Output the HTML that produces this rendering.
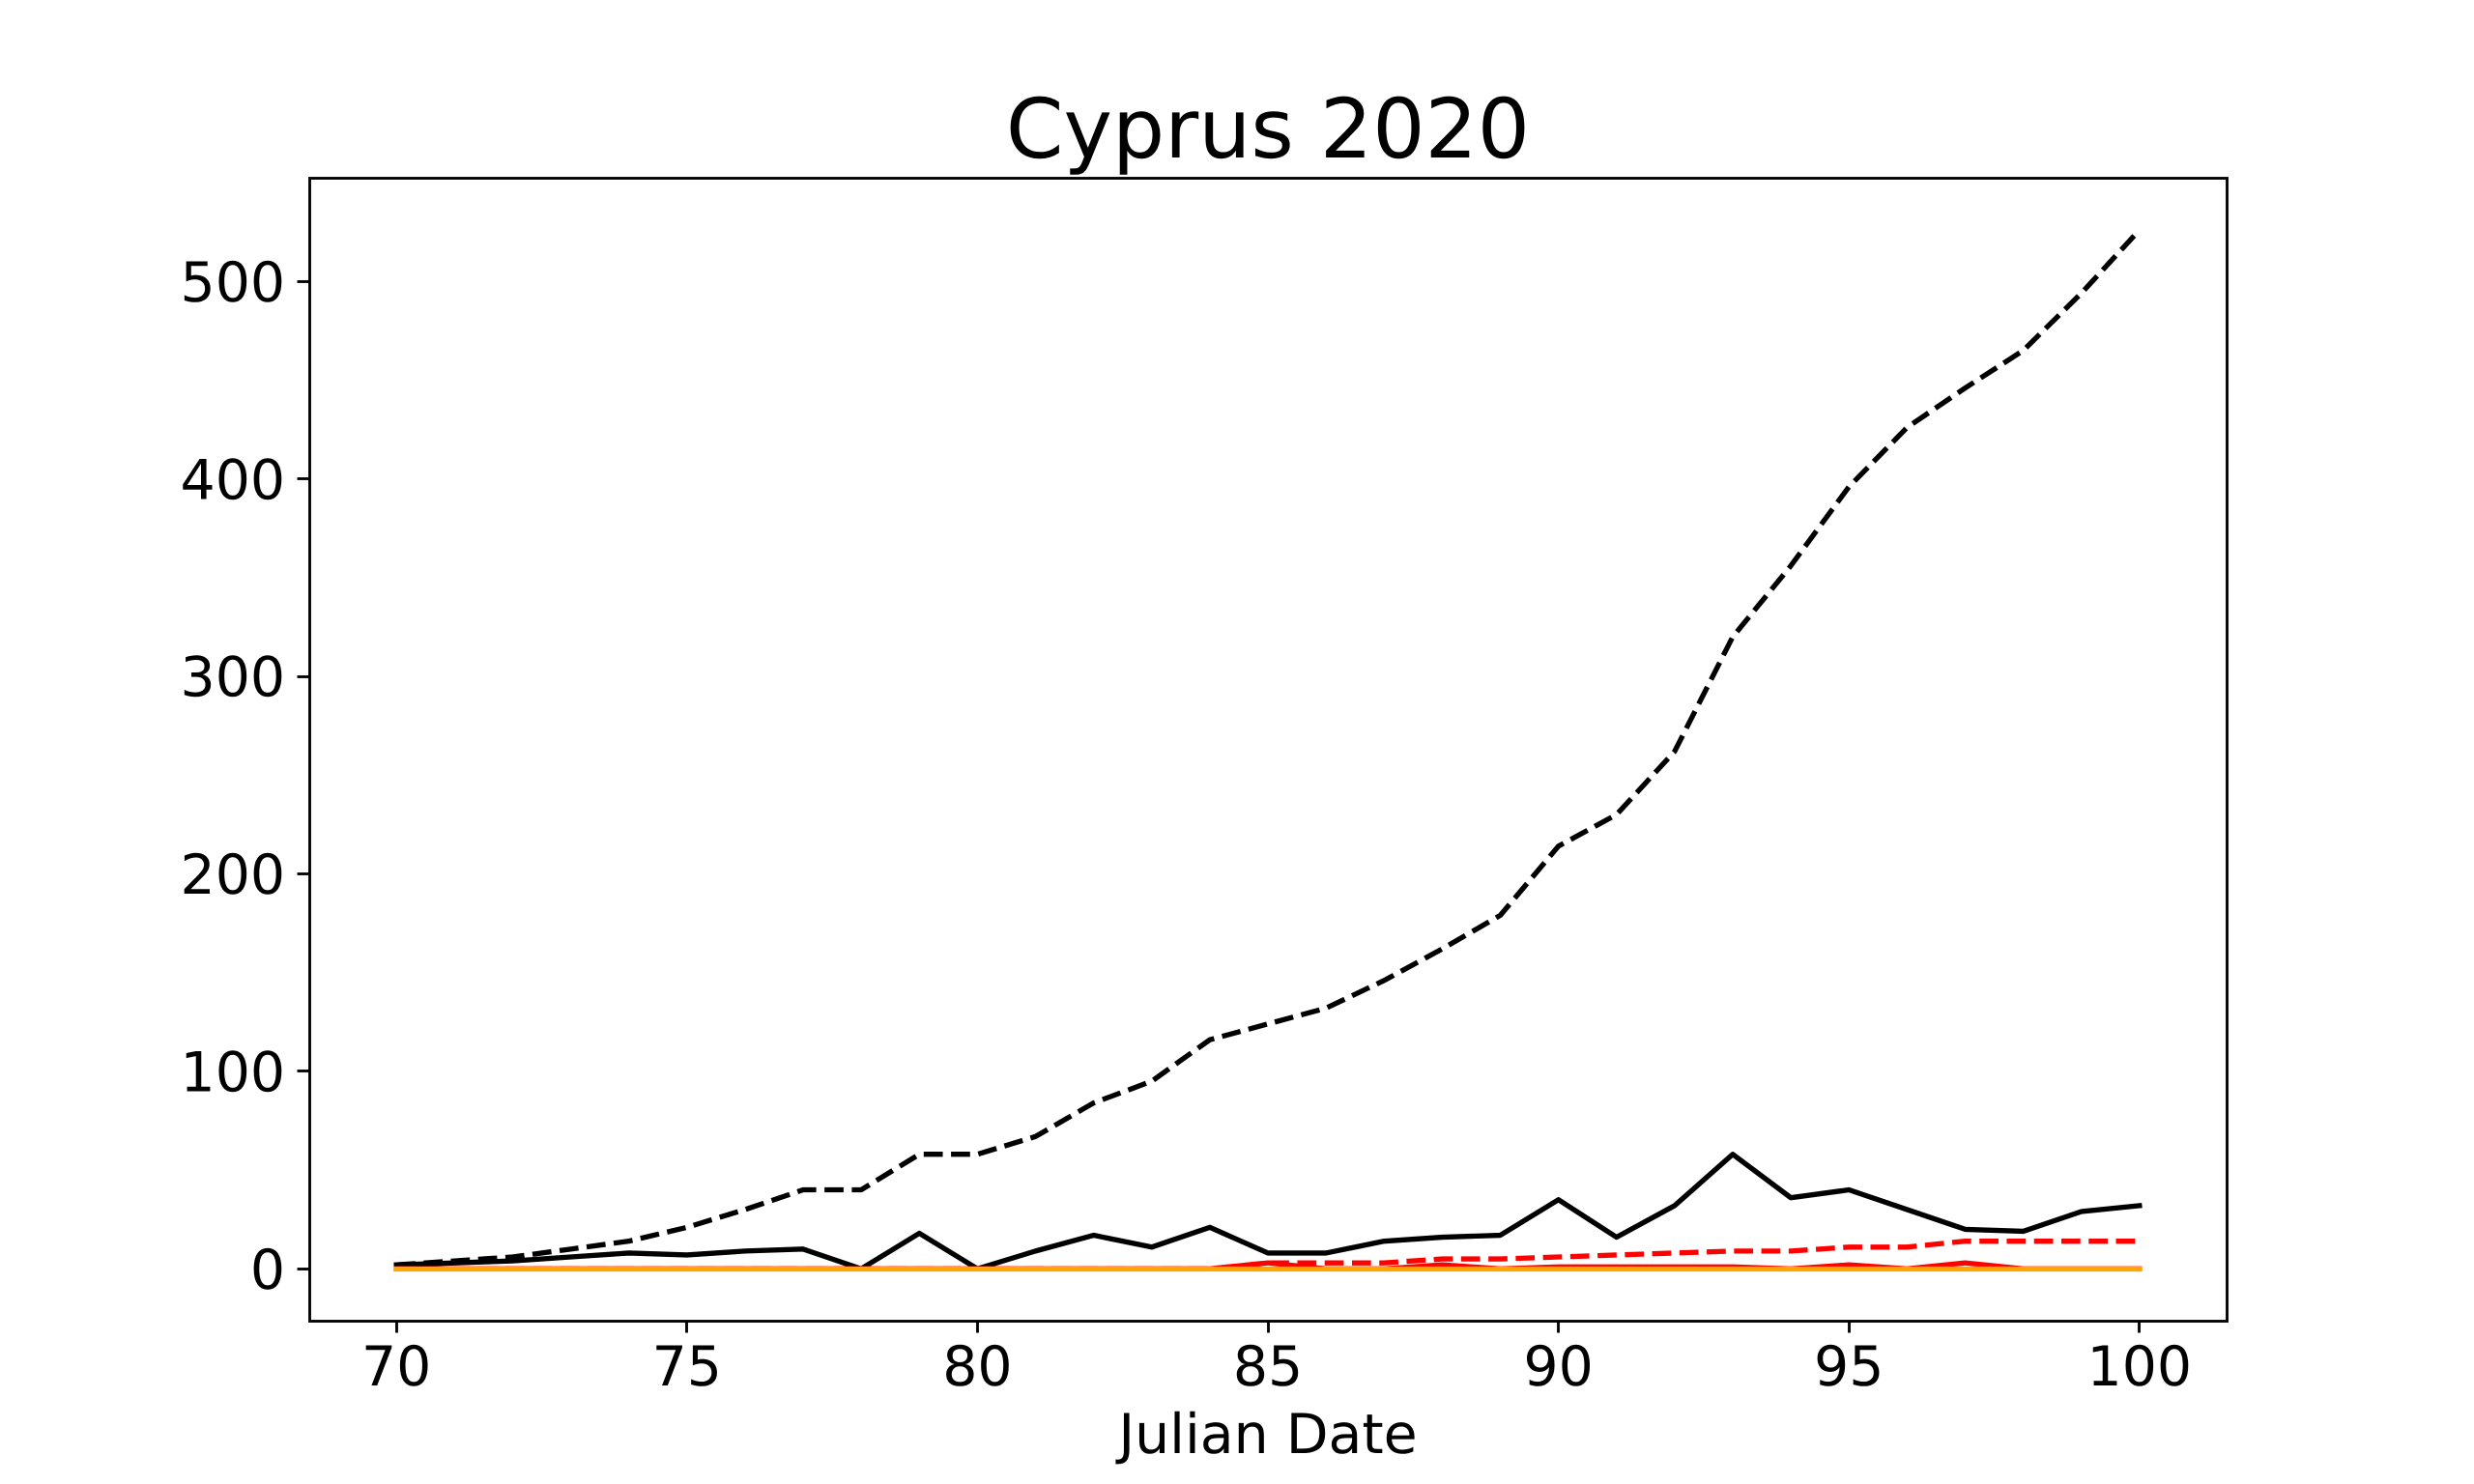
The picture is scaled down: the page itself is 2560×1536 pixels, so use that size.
<!DOCTYPE html>
<html lang="en">
<head>
<meta charset="utf-8">
<title>Cyprus 2020</title>
<style>
  html, body { margin: 0; padding: 0; background: #fff; }
  body { width: 2560px; height: 1536px; overflow: hidden; }
  svg { display: block; }
  text { font-family: "DejaVu Sans", "Liberation Sans", sans-serif; fill: #000; text-rendering: geometricPrecision; }
</style>
</head>
<body>
<svg id="chart" width="2560" height="1536" viewBox="0 0 2560 1536" xmlns="http://www.w3.org/2000/svg">
  <rect x="0" y="0" width="2560" height="1536" fill="#ffffff"/>
  <g id="series-layer"></g>
  <g id="tick-layer"></g>
  <rect x="320.5" y="184.5" width="1984" height="1183" fill="none" stroke="#000" stroke-width="2.84"/>
  <text x="1312" y="163" text-anchor="middle" font-size="85.33">Cyprus 2020</text>
  <text x="1312" y="1504" text-anchor="middle" font-size="56.89">Julian Date</text>
</svg>
<script>
const julianDays = [70,71,72,73,74,75,76,77,78,79,80,81,82,83,84,85,86,87,88,89,90,91,92,93,94,95,96,97,98,99,100];
const cumulativeCases = [2,4,6,10,14,21,30,40,40,58,58,67,84,95,116,124,132,146,162,179,214,230,262,320,356,396,426,446,465,494,526];
const dailyCases = [2,3,4,6,8,7,9,10,0,18,0,9,17,11,21,8,8,14,16,17,35,16,32,58,36,40,30,20,19,29,32];
const cumulativeDeaths = [0,0,0,0,0,0,0,0,0,0,0,0,0,0,0,3,3,3,5,5,6,7,8,9,9,11,11,14,14,14,14];
const dailyDeaths = [0,0,0,0,0,0,0,0,0,0,0,0,0,0,0,3,0,0,2,0,1,1,1,1,0,2,0,3,0,0,0];
const recovered = [0,0,0,0,0,0,0,0,0,0,0,0,0,0,0,0,0,0,0,0,0,0,0,0,0,0,0,0,0,0,0];
const xTickValues = [70,75,80,85,90,95,100];
const yTickValues = [0,100,200,300,400,500];

const SVG_NS = 'http://www.w3.org/2000/svg';
const plot = { left: 320, right: 2304, top: 184.32, bottom: 1367.04 };
const xMin = Math.min.apply(null, julianDays);
const xMax = Math.max.apply(null, julianDays);
const allValues = cumulativeCases.concat(dailyCases, cumulativeDeaths, dailyDeaths, recovered);
const yMin = Math.min.apply(null, allValues);
const yMax = Math.max.apply(null, allValues);
const xPad = (xMax - xMin) * 0.05;
const yPad = (yMax - yMin) * 0.05;

function xScale(v) {
  return plot.left + (v - (xMin - xPad)) / ((xMax + xPad) - (xMin - xPad)) * (plot.right - plot.left);
}
function yScale(v) {
  return plot.bottom - (v - (yMin - yPad)) / ((yMax + yPad) - (yMin - yPad)) * (plot.bottom - plot.top);
}
function snap(px) {
  return Math.floor(px) + 0.5;
}
function linePoints(values) {
  return values.map(function (v, i) {
    return xScale(julianDays[i]).toFixed(2) + ',' + yScale(v).toFixed(2);
  }).join(' ');
}
function drawLine(values, color, dashed) {
  const el = document.createElementNS(SVG_NS, 'polyline');
  el.setAttribute('points', linePoints(values));
  el.setAttribute('fill', 'none');
  el.setAttribute('stroke', color);
  el.setAttribute('stroke-width', '5.33');
  el.setAttribute('stroke-linejoin', 'round');
  el.setAttribute('stroke-linecap', dashed ? 'butt' : 'square');
  if (dashed) el.setAttribute('stroke-dasharray', '19.73 8.53');
  document.getElementById('series-layer').appendChild(el);
  return el;
}

const cumulativeCasesLine = drawLine(cumulativeCases, '#000000', true);



const dailyCasesLine = drawLine(dailyCases, '#000000', false);



const cumulativeDeathsLine = drawLine(cumulativeDeaths, '#ff0000', true);



const dailyDeathsLine = drawLine(dailyDeaths, '#ff0000', false);



const recoveredLine = drawLine(recovered, '#ffa500', false);


recoveredLine.setAttribute('transform', 'translate(0.3 0.22)');

const tickLayer = document.getElementById('tick-layer');
const tickLength = 12.44;
const tickLabelSize = '56.89';

xTickValues.forEach(function (v) {
  const px = xScale(v);
  const tick = document.createElementNS(SVG_NS, 'line');
  
  
  tick.setAttribute('x1', snap(px));
  tick.setAttribute('x2', snap(px));
  tick.setAttribute('y1', plot.bottom);
  tick.setAttribute('y2', plot.bottom + tickLength);
  tick.setAttribute('stroke', '#000');
  tick.setAttribute('stroke-width', '2.84');
  tickLayer.appendChild(tick);
  const label = document.createElementNS(SVG_NS, 'text');
  
  
  label.setAttribute('x', px);
  label.setAttribute('y', 1434);
  label.setAttribute('text-anchor', 'middle');
  label.setAttribute('font-size', tickLabelSize);
  label.textContent = String(v);
  tickLayer.appendChild(label);
});

yTickValues.forEach(function (v) {
  const py = yScale(v);
  const tick = document.createElementNS(SVG_NS, 'line');
  
  
  tick.setAttribute('x1', plot.left - tickLength);
  tick.setAttribute('x2', plot.left);
  tick.setAttribute('y1', snap(py));
  tick.setAttribute('y2', snap(py));
  tick.setAttribute('stroke', '#000');
  tick.setAttribute('stroke-width', '2.84');
  tickLayer.appendChild(tick);
  const label = document.createElementNS(SVG_NS, 'text');
  
  
  label.setAttribute('x', plot.left - 24.9);
  label.setAttribute('y', py + 20.7);
  label.setAttribute('text-anchor', 'end');
  label.setAttribute('font-size', tickLabelSize);
  label.textContent = String(v);
  tickLayer.appendChild(label);
});
</script>
</body>
</html>
